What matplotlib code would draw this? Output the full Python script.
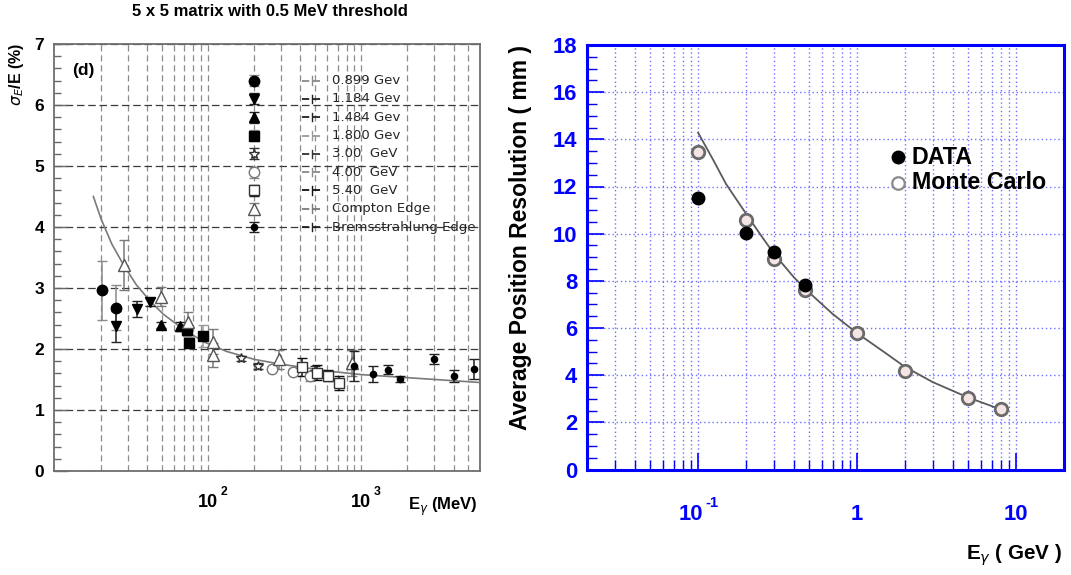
import matplotlib
matplotlib.use('Agg')
import matplotlib.pyplot as plt
import matplotlib.transforms as mtransforms
from matplotlib import font_manager
from matplotlib.ticker import MultipleLocator, LogLocator, NullFormatter, FixedLocator
import numpy as np

# ---------------- left panel: sigma_E/E (%) vs E_gamma (MeV) ----------------
e_0899 = [20.2, 25.0]
s_0899 = [2.96, 2.68]
d_0899 = [0.49, 0.37]

e_1184 = [25.0, 34.2, 41.8]
s_1184 = [2.37, 2.65, 2.77]
d_1184 = [0.25, 0.13, 0.07]

e_1484 = [49.1, 65.0]
s_1484 = [2.39, 2.37]
d_1484 = [0.05, 0.08]

e_1800 = [73.0, 75.0, 93.0]
s_1800 = [2.31, 2.10, 2.22]
d_1800 = [0.10, 0.09, 0.18]

e_300 = [164, 211, 500]
s_300 = [1.85, 1.72, 1.62]
d_300 = [0.04, 0.05, 0.10]

e_400 = [260, 357, 462]
s_400 = [1.67, 1.63, 1.56]
d_400 = [0.03, 0.04, 0.08]

e_540 = [410, 511, 604, 712]
s_540 = [1.70, 1.61, 1.56, 1.44]
d_540 = [0.15, 0.12, 0.09, 0.12]

e_comp = [28.0, 49.1, 74.0, 108, 108, 288, 865]
s_comp = [3.38, 2.86, 2.45, 2.12, 1.90, 1.83, 1.77]
d_comp = [0.41, 0.15, 0.15, 0.20, 0.20, 0.16, 0.22]

e_brem = [899, 1184, 1484, 1800, 3000, 4000, 5400]
s_brem = [1.72, 1.59, 1.66, 1.51, 1.84, 1.56, 1.67]
d_brem = [0.24, 0.13, 0.07, 0.05, 0.08, 0.10, 0.16]

# fitted resolution curve
fit_e = [17.8, 20, 23.5, 28, 34, 42, 51, 65, 93, 132, 200, 300, 600, 1000, 2000, 4000, 6000]
fit_s = [4.50, 4.13, 3.72, 3.38, 3.05, 2.78, 2.57, 2.37, 2.12, 1.96, 1.83, 1.75, 1.64, 1.58, 1.53, 1.48, 1.45]

legend_labels = ['0.899 Gev', '1.184 Gev', '1.484 Gev', '1.800 Gev', '3.00  GeV',
                 '4.00  GeV', '5.40  GeV', 'Compton Edge', 'Bremsstrahlung Edge']

# ---------------- right panel: position resolution (mm) vs E_gamma (GeV) ----------------
e_data = [0.1, 0.2, 0.3, 0.47]
pos_data = [11.53, 10.04, 9.22, 7.84]
e_mc = [0.1, 0.2, 0.3, 0.47, 1.0, 2.0, 5.0, 8.0]
pos_mc = [13.45, 10.6, 8.92, 7.6, 5.77, 4.18, 3.03, 2.56]
fit2_e = [0.1, 0.125, 0.15, 0.2, 0.25, 0.3, 0.4, 0.5, 0.7, 1.0, 1.5, 2.0, 3.0, 5.0, 8.0]
fit2_s = [14.28, 13.1, 12.1, 10.85, 9.9, 9.15, 8.15, 7.5, 6.6, 5.78, 4.95, 4.35, 3.7, 3.05, 2.55]

# fonts
names = {f.name for f in font_manager.fontManager.ttflist}
SANS = 'Liberation Sans' if 'Liberation Sans' in names else 'DejaVu Sans'
NARROW = 'Liberation Sans Narrow' if 'Liberation Sans Narrow' in names else SANS
nscale = 1.0 if NARROW != SANS else 0.93
plt.rcParams['font.family'] = [SANS, 'DejaVu Sans']
plt.rcParams['mathtext.fontset'] = 'dejavusans'

BLUE = '#0000ff'

fig = plt.figure(figsize=(10.71, 5.75), dpi=100)
W, H = 1071.0, 575.0


def pix_axes(l, t, r, b):
    return fig.add_axes([l / W, 1 - b / H, (r - l) / W, (b - t) / H])


def pow_label(ax, x, yfrac, base, exp, size, color, family, dx=0):
    # ROOT-style "10^n" tick label, baseline aligned
    tr = mtransforms.blended_transform_factory(ax.transData, ax.transAxes)
    t = ax.annotate(base, xy=(x, yfrac), xycoords=tr, xytext=(dx, 0), textcoords='offset points',
                    ha='center', va='baseline', fontsize=size, fontweight='bold', color=color,
                    family=family, annotation_clip=False)
    if exp:
        ax.annotate(exp, xy=(1, 1), xycoords=t, xytext=(1.5, 1), textcoords='offset points',
                    ha='left', va='center', fontsize=size * 0.68, fontweight='bold', color=color,
                    family=family, annotation_clip=False)


# ======================= left panel =======================
axL = pix_axes(54, 44, 480, 471)
axL.set_xscale('log')
axL.set_xlim(9.85, 5950)
axL.set_ylim(0, 7)
axL.xaxis.set_major_locator(FixedLocator([100, 1000]))
axL.xaxis.set_minor_locator(LogLocator(base=10, subs=np.arange(2, 10)))
axL.xaxis.set_major_formatter(NullFormatter())
axL.xaxis.set_minor_formatter(NullFormatter())
axL.yaxis.set_major_locator(MultipleLocator(1))
axL.yaxis.set_minor_locator(MultipleLocator(0.2))
axL.xaxis.grid(True, which='both', color='#8c8c8c', ls=(0, (5, 3)), lw=0.9)
axL.yaxis.grid(True, which='major', color='#3a3a3a', ls=(0, (6, 3)), lw=0.9)
axL.set_axisbelow(True)
axL.tick_params(axis='y', which='major', direction='in', length=10, width=1, color='#666',
                labelsize=12.5, pad=7)
axL.tick_params(axis='y', which='minor', direction='in', length=5, width=1, color='#666')
axL.tick_params(axis='x', which='both', direction='in', length=0)
for lab in axL.get_yticklabels():
    lab.set_fontweight('bold')
for sp in axL.spines.values():
    sp.set_color('#6e6e6e')
    sp.set_linewidth(1.3)

pow_label(axL, 100, -0.084, '10', '2', 13, 'black', SANS)
pow_label(axL, 1000, -0.084, '10', '3', 13, 'black', SANS)

axL.plot(fit_e, fit_s, color='#7a7a7a', lw=1.2, zorder=2)

# label, E, value, err, marker, size, face, edge, errcolor
left_series = [
    (legend_labels[0], e_0899, s_0899, d_0899, 'o', 7.5, 'black', 'black', '#8a8a8a'),
    (legend_labels[1], e_1184, s_1184, d_1184, 'v', 7.5, 'black', 'black', '#222222'),
    (legend_labels[2], e_1484, s_1484, d_1484, '^', 7.5, 'black', 'black', '#222222'),
    (legend_labels[3], e_1800, s_1800, d_1800, 's', 7.0, 'black', 'black', '#9a9a9a'),
    (legend_labels[4], e_300, s_300, d_300, '*', 7.5, 'white', '#333333', '#333333'),
    (legend_labels[5], e_400, s_400, d_400, 'o', 7.5, 'white', '#777777', '#8a8a8a'),
    (legend_labels[6], e_540, s_540, d_540, 's', 7.5, 'white', '#333333', '#111111'),
    (legend_labels[7], e_comp, s_comp, d_comp, '^', 8.0, 'white', '#555555', '#7a7a7a'),
    (legend_labels[8], e_brem, s_brem, d_brem, 'o', 4.5, 'black', 'black', '#222222'),
]

blend = mtransforms.blended_transform_factory(axL.transAxes, axL.transData)
for i, (lbl, e, s, d, mk, ms, fc, ec, erc) in enumerate(left_series):
    style = dict(fmt=mk, ms=ms, mfc=fc, mec=ec, mew=1.0, ecolor=erc, elinewidth=1.1,
                 capsize=3.5, capthick=1.1, zorder=3)
    axL.errorbar(e, s, yerr=d, **style)
    # legend key: marker column at 200 MeV plus text on the right
    yk = 6.4 - 0.3 * i
    axL.errorbar([200], [yk], yerr=[0.09], **style)
    axL.plot([0.582, 0.629], [yk, yk], transform=blend, color=erc, lw=1.3,
             ls=(0, (4, 2)), zorder=3)
    axL.plot([0.6055, 0.6055], [yk - 0.07, yk + 0.07], transform=blend, color=erc, lw=1.0, zorder=3)
    axL.text(0.6526, yk, lbl, transform=blend, va='center', ha='left', fontsize=9.5,
             family='DejaVu Sans', color='#262626', zorder=4)

axL.text(0.042, 0.939, '(d)', transform=axL.transAxes, fontsize=12.5, fontweight='bold',
         va='center', ha='left')

fig.text(270 / W, 1 - 12 / H, '5 x 5 matrix with 0.5 MeV threshold', ha='center', va='center',
         fontsize=12, fontweight='bold')
fig.text(17 / W, 1 - 43 / H, r'$\sigma_{E}$/E (%)', rotation=90, ha='center', va='top',
         fontsize=11.5, fontweight='bold')
fig.text(478 / W, 1 - 507 / H, r'E$_{\gamma}$ (MeV)', ha='right', va='center', fontsize=12,
         fontweight='bold')

# ======================= right panel =======================
axR = pix_axes(587, 45, 1064, 469.5)
axR.set_xscale('log')
axR.set_xlim(0.02, 20)
axR.set_ylim(0, 18)
axR.xaxis.set_major_locator(FixedLocator([0.1, 1, 10]))
axR.xaxis.set_minor_locator(LogLocator(base=10, subs=np.arange(2, 10)))
axR.xaxis.set_major_formatter(NullFormatter())
axR.xaxis.set_minor_formatter(NullFormatter())
axR.yaxis.set_major_locator(MultipleLocator(2))
axR.yaxis.set_minor_locator(MultipleLocator(0.5))
axR.xaxis.grid(True, which='both', color='#6f6fff', ls=(0, (1, 2)), lw=1.0)
axR.yaxis.grid(True, which='major', color='#6f6fff', ls=(0, (1, 2)), lw=1.0)
axR.set_axisbelow(True)
axR.tick_params(axis='both', which='major', direction='in', length=12, width=1.2, color=BLUE)
axR.tick_params(axis='both', which='minor', direction='in', length=7, width=1.0, color=BLUE)
axR.tick_params(axis='y', labelsize=17 * nscale, labelcolor=BLUE, pad=7)
for lab in axR.get_yticklabels():
    lab.set_fontweight('bold')
    lab.set_family(NARROW)
for sp in axR.spines.values():
    sp.set_color(BLUE)
    sp.set_linewidth(2.2)

pow_label(axR, 0.1, -0.119, '10', '-1', 17 * nscale, BLUE, NARROW, dx=-5)
pow_label(axR, 1, -0.119, '1', '', 17 * nscale, BLUE, NARROW)
pow_label(axR, 10, -0.119, '10', '', 17 * nscale, BLUE, NARROW)

axR.plot(fit2_e, fit2_s, color='#5a5a5a', lw=1.3, zorder=2)
axR.plot(e_data, pos_data, 'o', ms=9, color='black', zorder=4)
axR.plot(e_mc, pos_mc, 'o', ms=9, mfc='#f4e4e4', mec='#6a6a6a', mew=2.0, zorder=3)

# legend
axR.plot([0.652], [0.736], 'o', ms=9, color='black', transform=axR.transAxes)
axR.plot([0.652], [0.675], 'o', ms=9, mfc='white', mec='#8a8a8a', mew=1.6, transform=axR.transAxes)
axR.text(0.681, 0.736, 'DATA', transform=axR.transAxes, va='center', ha='left',
         fontsize=18 * nscale, fontweight='bold', family=NARROW)
axR.text(0.681, 0.675, 'Monte Carlo', transform=axR.transAxes, va='center', ha='left',
         fontsize=18 * nscale, fontweight='bold', family=NARROW)

fig.text(520 / W, 1 - 238 / H, 'Average Position Resolution ( mm )', rotation=90, ha='center',
         va='center', fontsize=16.5, fontweight='bold')
fig.text(1062 / W, 1 - 555 / H, r'E$_{\gamma}$ ( GeV )', ha='right', va='center',
         fontsize=16 * nscale, fontweight='bold', family=NARROW)

fig.savefig('out.png', dpi=100)
